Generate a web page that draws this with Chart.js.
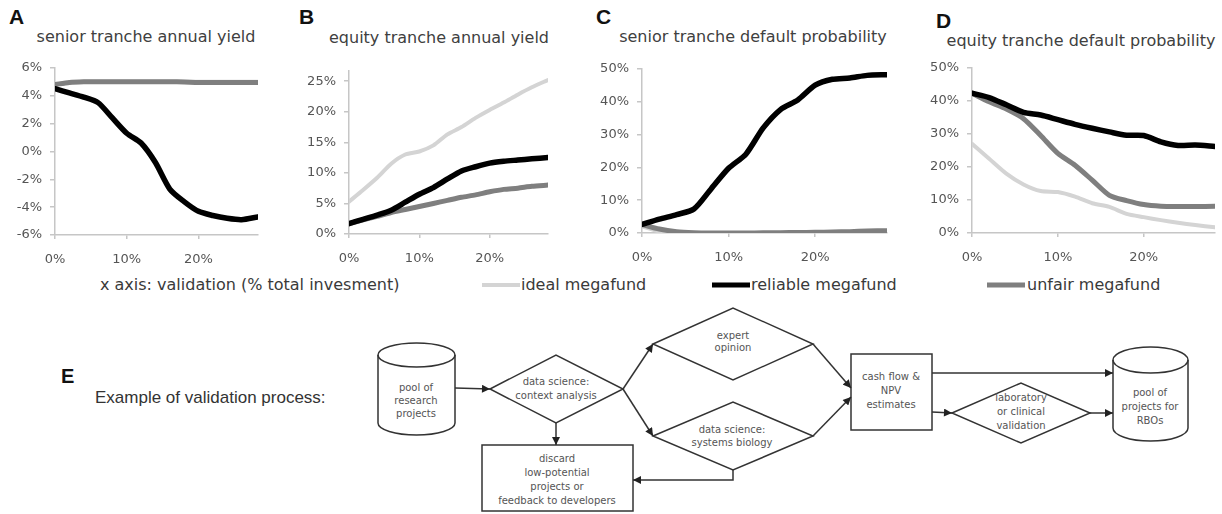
<!DOCTYPE html>
<html>
<head>
<meta charset="utf-8">
<script src="https://cdn.jsdelivr.net/npm/chart.js@4"></script>
<style>
  body { margin: 0; background: #fff; }
  #wrap { position: relative; width: 1222px; height: 514px; overflow: hidden; font-family: "DejaVu Sans", sans-serif; }
  #wrap canvas { position: absolute; }
  .letter { position: absolute; font: bold 21px "Liberation Sans", Arial, sans-serif; color: #111; line-height: 1; }
  .title { position: absolute; width: 400px; text-align: center; font-size: 16px; color: #404040; line-height: 20px; white-space: nowrap; }
  svg { position: absolute; left: 0; top: 0; }
</style>
</head>
<body>
<div id="wrap">
  <div class="letter" style="left:9px;top:6px">A</div>
  <div class="letter" style="left:299px;top:6px">B</div>
  <div class="letter" style="left:596px;top:6px">C</div>
  <div class="letter" style="left:936px;top:10px">D</div>
  <div class="title" style="left:-54px;top:27px">senior tranche annual yield</div>
  <div class="title" style="left:239px;top:28px">equity tranche annual yield</div>
  <div class="title" style="left:553px;top:27px">senior tranche default probability</div>
  <div class="title" style="left:881px;top:31px">equity tranche default probability</div>

  <svg width="1222" height="514" viewBox="0 0 1222 514">
    <defs>
      <marker id="ah" viewBox="0 0 10 10" refX="10" refY="5" markerUnits="userSpaceOnUse" markerWidth="9" markerHeight="8" orient="auto">
        <path d="M0,0 L10,5 L0,10 z" fill="#222"/>
      </marker>
    </defs>

    <!-- legend row -->
    <g font-family="DejaVu Sans, sans-serif" font-size="16" fill="#3a3a3a">
      <text x="100" y="290">x axis: validation (% total invesment)</text>
      <line x1="482" y1="285" x2="520" y2="285" stroke="#d4d4d4" stroke-width="4"/>
      <text x="521" y="290">ideal megafund</text>
      <line x1="712" y1="285" x2="750" y2="285" stroke="#000" stroke-width="5"/>
      <text x="751" y="290">reliable megafund</text>
      <line x1="987" y1="285" x2="1025" y2="285" stroke="#7f7f7f" stroke-width="5"/>
      <text x="1027" y="290">unfair megafund</text>
    </g>

    <!-- panel E -->
    <text x="61" y="383" font-family="Liberation Sans, Arial, sans-serif" font-weight="bold" font-size="20" fill="#111">E</text>
    <text x="95" y="403" font-family="Liberation Sans, Arial, sans-serif" font-size="17" fill="#333">Example of validation process:</text>

    <g fill="none" stroke="#333" stroke-width="1.5">
      <!-- pool of research projects -->
      <ellipse cx="416.5" cy="355" rx="38.5" ry="12"/>
      <path d="M378,355 L378,423 A38.5,12 0 0 0 455,423 L455,355"/>
      <!-- data science: context analysis -->
      <polygon points="490,389 556,355 623,389 556,423"/>
      <!-- expert opinion -->
      <polygon points="653,344 733,308 813,344 733,380"/>
      <!-- systems biology -->
      <polygon points="653,436 733,402 813,436 733,470"/>
      <!-- discard -->
      <rect x="482" y="445" width="151" height="66"/>
      <!-- cash flow -->
      <rect x="851" y="354" width="81" height="76"/>
      <!-- lab validation -->
      <polygon points="952,413 1021,383 1090,413 1021,443"/>
      <!-- pool for RBOs -->
      <ellipse cx="1150.5" cy="360" rx="37.5" ry="13"/>
      <path d="M1113,360 L1113,428 A37.5,13 0 0 0 1188,428 L1188,360"/>

      <g marker-end="url(#ah)">
        <line x1="455" y1="388" x2="490" y2="389"/>
        <line x1="623" y1="389" x2="653" y2="344"/>
        <line x1="623" y1="389" x2="653" y2="436"/>
        <line x1="556" y1="423" x2="556" y2="445"/>
        <polyline points="733,470 733,480 633,480"/>
        <line x1="813" y1="344" x2="851" y2="388"/>
        <line x1="813" y1="436" x2="851" y2="397"/>
        <line x1="932" y1="373" x2="1113" y2="373"/>
        <line x1="932" y1="412" x2="952" y2="413"/>
        <line x1="1090" y1="413" x2="1113" y2="413"/>
      </g>
    </g>

    <g font-family="DejaVu Sans, sans-serif" font-size="10" fill="#555" text-anchor="middle" dominant-baseline="middle">
      <text x="416" y="388">pool of</text>
      <text x="416" y="401">research</text>
      <text x="416" y="414">projects</text>
      <text x="556" y="382">data science:</text>
      <text x="556" y="396">context analysis</text>
      <text x="733" y="336">expert</text>
      <text x="733" y="348">opinion</text>
      <text x="732" y="430">data science:</text>
      <text x="732" y="443">systems biology</text>
      <text x="557" y="459">discard</text>
      <text x="557" y="473">low-potential</text>
      <text x="557" y="487">projects or</text>
      <text x="557" y="501">feedback to developers</text>
      <text x="891" y="377">cash flow &amp;</text>
      <text x="891" y="391">NPV</text>
      <text x="891" y="405">estimates</text>
      <text x="1021" y="398">laboratory</text>
      <text x="1021" y="412">or clinical</text>
      <text x="1021" y="426">validation</text>
      <text x="1150" y="393">pool of</text>
      <text x="1150" y="407">projects for</text>
      <text x="1150" y="421">RBOs</text>
    </g>
  </svg>
</div>

<script>
// x positions: validation as % of total investment
const xs = [0, 2, 4, 6, 8, 10, 12, 14, 16, 18, 20, 22, 24, 26, 28.3];
const xTicks = [0, 10, 20];

// A: senior tranche annual yield (%)
const aIdeal    = [4.8, 4.95, 5.0, 5.0, 5.0, 5.0, 5.0, 5.0, 5.0, 5.0, 5.0, 5.0, 5.0, 5.0, 5.0];
const aReliable = [4.5, 4.2, 3.9, 3.5, 2.4, 1.3, 0.6, -0.8, -2.7, -3.6, -4.3, -4.6, -4.8, -4.9, -4.7];
const aUnfair   = [4.8, 4.95, 5.0, 5.0, 5.0, 5.0, 5.0, 5.0, 5.0, 4.98, 4.95, 4.95, 4.95, 4.95, 4.95];
const aTicks = [-6, -4, -2, 0, 2, 4, 6];

// B: equity tranche annual yield (%)
const bIdeal    = [5.3, 7.2, 9.2, 11.5, 13.0, 13.5, 14.5, 16.3, 17.5, 19.0, 20.3, 21.5, 22.8, 24.0, 25.2];
const bReliable = [1.7, 2.4, 3.1, 3.9, 5.2, 6.5, 7.6, 9.0, 10.3, 11.0, 11.6, 11.9, 12.1, 12.3, 12.5];
const bUnfair   = [1.7, 2.3, 2.9, 3.5, 4.0, 4.5, 5.0, 5.5, 6.0, 6.4, 6.9, 7.3, 7.5, 7.8, 8.0];
const bTicks = [0, 5, 10, 15, 20, 25];

// C: senior tranche default probability (%)
const cIdeal    = [2.0, 0.5, 0.1, 0, 0, 0, 0, 0, 0, 0, 0, 0, 0, 0, 0];
const cReliable = [2.6, 4.2, 5.6, 7.3, 13.5, 19.7, 24.0, 32.0, 37.6, 40.5, 45.0, 46.8, 47.2, 48.0, 48.2];
const cUnfair   = [2.6, 1.2, 0.4, 0.1, 0, 0, 0, 0.05, 0.1, 0.15, 0.2, 0.3, 0.4, 0.6, 0.7];
const cTicks = [0, 10, 20, 30, 40, 50];

// D: equity tranche default probability (%)
const dIdeal    = [27.0, 22.5, 18.0, 14.7, 12.7, 12.4, 11.0, 9.0, 7.9, 5.8, 4.8, 3.9, 3.1, 2.4, 1.7];
const dReliable = [42.3, 41.0, 38.8, 36.5, 35.7, 34.3, 32.9, 31.7, 30.6, 29.6, 29.5, 27.6, 26.5, 26.6, 26.2];
const dUnfair   = [42.3, 39.7, 37.5, 34.6, 29.5, 24.1, 20.5, 16.0, 11.4, 9.8, 8.6, 8.1, 8.0, 8.0, 8.1];
const dTicks = [0, 10, 20, 30, 40, 50];

const COL = { ideal: '#d4d4d4', reliable: '#000000', unfair: '#7f7f7f', axis: '#c6c6c6', tick: '#555555' };
const PAD_L = 46, PAD_T = 10, PAD_R = 8, PAD_B = 38;

const line = (vals, color, width) => ({
  data: xs.map((x, i) => ({ x, y: vals[i] })),
  borderColor: color,
  borderWidth: width,
  pointRadius: 0,
  tension: 0.25,
  fill: false,
  borderCapStyle: 'round',
  borderJoinStyle: 'round'
});

const makeChart = (rect, yMin, yMax, yTicks, ideal, reliable, unfair) => {
  const cv = document.createElement('canvas');
  cv.width = rect.r - rect.l + PAD_L + PAD_R;
  cv.height = rect.b - rect.t + PAD_T + PAD_B;
  cv.style.left = (rect.l - PAD_L) + 'px';
  cv.style.top = (rect.t - PAD_T) + 'px';
  document.getElementById('wrap').appendChild(cv);

  const tickFont = { family: 'DejaVu Sans', size: 13 };
  new Chart(cv.getContext('2d'), {
    type: 'line',
    data: {
      // first dataset is painted last, so reliable sits on top
      datasets: [line(reliable, COL.reliable, 5.5), line(unfair, COL.unfair, 5), line(ideal, COL.ideal, 4)]
    },
    options: {
      responsive: false,
      animation: false,
      events: [],
      layout: { padding: { top: PAD_T, right: PAD_R, left: 0, bottom: 0 } },
      plugins: { legend: { display: false }, tooltip: { enabled: false } },
      scales: {
        x: {
          type: 'linear', min: 0, max: 28.3,
          afterBuildTicks: s => { s.ticks = xTicks.map(v => ({ value: v })); },
          afterFit: s => { s.height = PAD_B; },
          ticks: { callback: v => v + '%', color: COL.tick, font: tickFont, padding: 13, maxRotation: 0, autoSkip: false },
          grid: { drawOnChartArea: false, drawTicks: true, tickLength: 4, color: COL.axis, lineWidth: 1.5 },
          border: { color: COL.axis, width: 1.5 }
        },
        y: {
          min: yMin, max: yMax,
          afterBuildTicks: s => { s.ticks = yTicks.map(v => ({ value: v })); },
          afterFit: s => { s.width = PAD_L; },
          ticks: { callback: v => v + '%', color: COL.tick, font: tickFont, padding: 8, autoSkip: false },
          grid: { drawOnChartArea: false, drawTicks: true, tickLength: 5, color: COL.axis, lineWidth: 1.5 },
          border: { color: COL.axis, width: 1.5 }
        }
      }
    }
  });
};

makeChart({ l: 55, t: 62, r: 258, b: 235 }, -6, 6, aTicks, aIdeal, aReliable, aUnfair);
makeChart({ l: 349, t: 65, r: 548, b: 234 }, 0, 26.7, bTicks, bIdeal, bReliable, bUnfair);
makeChart({ l: 642, t: 63, r: 887, b: 233 }, 0, 50, cTicks, cIdeal, cReliable, cUnfair);
makeChart({ l: 972, t: 62, r: 1215, b: 233 }, 0, 50, dTicks, dIdeal, dReliable, dUnfair);
</script>
</body>
</html>
